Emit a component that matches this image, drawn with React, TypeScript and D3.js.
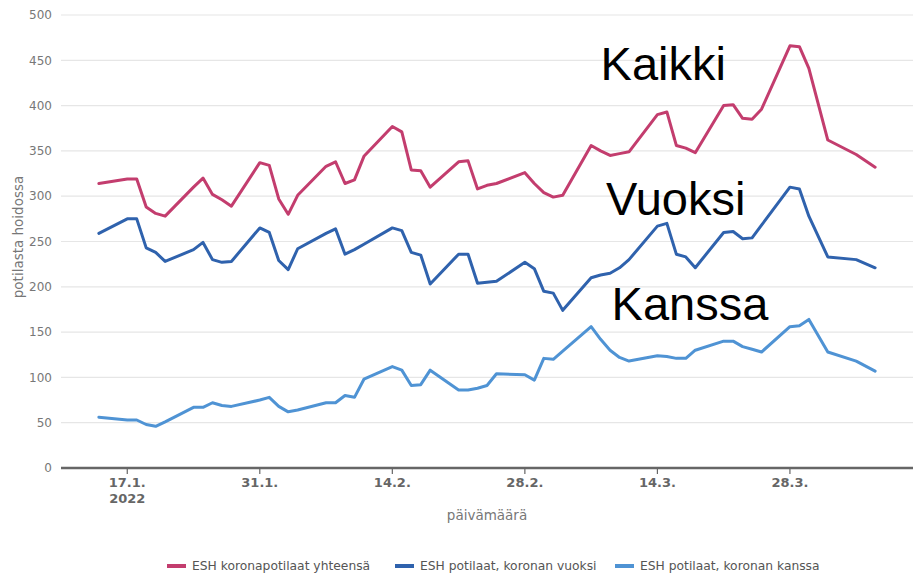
import { scaleLinear, scaleTime, line, timeParse } from 'd3'

const width = 913,
      height = 573,
      margin = { top: 15, right: 0, bottom: 105, left: 61 }

const parseDate = timeParse('%Y-%m-%d')

// weekdays with data (Mar 31 and Apr 5 have no point on the chart)
const dates = [
  '2022-01-14', '2022-01-17', '2022-01-18', '2022-01-19', '2022-01-20', '2022-01-21',
  '2022-01-24', '2022-01-25', '2022-01-26', '2022-01-27', '2022-01-28', '2022-01-31',
  '2022-02-01', '2022-02-02', '2022-02-03', '2022-02-04', '2022-02-07', '2022-02-08',
  '2022-02-09', '2022-02-10', '2022-02-11', '2022-02-14', '2022-02-15', '2022-02-16',
  '2022-02-17', '2022-02-18', '2022-02-21', '2022-02-22', '2022-02-23', '2022-02-24',
  '2022-02-25', '2022-02-28',
  '2022-03-01', '2022-03-02', '2022-03-03', '2022-03-04', '2022-03-07', '2022-03-08',
  '2022-03-09', '2022-03-10', '2022-03-11', '2022-03-14', '2022-03-15', '2022-03-16',
  '2022-03-17', '2022-03-18', '2022-03-21', '2022-03-22', '2022-03-23', '2022-03-24',
  '2022-03-25', '2022-03-28', '2022-03-29', '2022-03-30',
  '2022-04-01', '2022-04-04', '2022-04-06'
]

const yhteensa = [
  314, 319, 319, 288, 281, 278, 310, 320, 302, 296, 289, 337,
  334, 297, 280, 301, 333, 338, 314, 318, 344, 377, 371, 329, 328, 310, 338, 339, 308, 312, 314, 326,
  314, 304, 299, 301, 356, 350, 345, 347, 349, 390, 393, 356, 353, 348, 400, 401, 386, 385, 396, 466, 465, 441,
  362, 346, 332
]

const vuoksi = [
  259, 275, 275, 243, 238, 228, 241, 249, 230, 227, 228, 265,
  260, 229, 219, 242, 259, 264, 236, 241, 247, 265, 262, 238, 235, 203, 236, 236, 204, 205, 206, 227,
  220, 195, 193, 174, 210, 213, 215, 221, 230, 267, 270, 236, 233, 221, 260, 261, 253, 254, 268, 310, 308, 278,
  233, 230, 221
]

const kanssa = [
  56, 53, 53, 48, 46, 51, 67, 67, 72, 69, 68, 75,
  78, 68, 62, 64, 72, 72, 80, 78, 98, 112, 108, 91, 92, 108, 86, 86, 88, 91, 104, 103,
  97, 121, 120, 129, 156, 142, 130, 122, 118, 124, 123, 121, 121, 130, 140, 140, 134, 131, 128, 156, 157, 164,
  128, 118, 107
]

const yTicks = [0, 50, 100, 150, 200, 250, 300, 350, 400, 450, 500]
const xTicks = ['2022-01-17', '2022-01-31', '2022-02-14', '2022-02-28', '2022-03-14', '2022-03-28']
const xTickLabels = ['17.1.', '31.1.', '14.2.', '28.2.', '14.3.', '28.3.']

const seriesNames = ['ESH koronapotilaat yhteensä', 'ESH potilaat, koronan vuoksi', 'ESH potilaat, koronan kanssa']
const seriesColors = ['#c33d6e', '#2f62ad', '#4f93d4']
const annotations = ['Kaikki', 'Vuoksi', 'Kanssa']

export default function App() {
  const x = scaleTime()
    .domain([parseDate('2022-01-10'), parseDate('2022-04-10')])
    .range([margin.left, width - margin.right])

  const y = scaleLinear()
    .domain([0, 500])
    .range([height - margin.bottom, margin.top])

  const series = [yhteensa, vuoksi, kanssa]

  const drawLine = line<[Date, number]>()
    .x(d => x(d[0]))
    .y(d => y(d[1]))

  const paths = series.map(vals => drawLine(dates.map((d, i) => [parseDate(d), vals[i]])))

  // annotation anchors: x on a date, baseline on a value
  const annoPos = [
    { d: '2022-03-08', v: 428 },
    { d: '2022-03-08', v: 279 },
    { d: '2022-03-08', v: 163 }
  ]

  const legendX = [167, 395, 615]
  const y0 = y(0)

  return (
    <svg width={width} height={height} style={{ position: 'absolute', left: 0, top: 0, background: '#fff' }}>
      {yTicks.map(t => (
        <g key={t}>
          {t > 0 && <line x1={margin.left} x2={width} y1={y(t)} y2={y(t)} stroke='#e6e6e6' strokeWidth={1.2} />}
          <text x={52} y={y(t)} dy='0.35em' textAnchor='end' fontFamily='DejaVu Sans' fontSize={12} fill='#777'>{t}</text>
        </g>
      ))}

      <text transform={`translate(23, ${y(255)}) rotate(-90)`} textAnchor='middle' fontFamily='DejaVu Sans' fontSize={13.5} fill='#777'>potilasta hoidossa</text>

      {paths.map((p, i) => (
        <path key={i} d={p || ''} fill='none' stroke={seriesColors[i]} strokeWidth={3} strokeLinejoin='round' strokeLinecap='round' />
      ))}

      <line x1={margin.left} x2={width} y1={y0} y2={y0} stroke='#666' strokeWidth={2.5} />
      {xTicks.map((t, i) => (
        <g key={t} transform={`translate(${x(parseDate(t))}, 0)`}>
          <line y1={y0} y2={y0 + 6} stroke='#666' strokeWidth={1.2} />
          <text y={y0 + 19} textAnchor='middle' fontFamily='DejaVu Sans' fontWeight='bold' fontSize={13} fill='#666'>{xTickLabels[i]}</text>
          {i === 0 && <text y={y0 + 35} textAnchor='middle' fontFamily='DejaVu Sans' fontWeight='bold' fontSize={13} fill='#666'>2022</text>}
        </g>
      ))}

      <text x={487} y={520} textAnchor='middle' fontFamily='DejaVu Sans' fontSize={13.5} fill='#777'>päivämäärä</text>

      {annotations.map((a, i) => (
        <text key={a} x={x(parseDate(annoPos[i].d)) + (i === 0 ? 0 : i * 5.5)} y={y(annoPos[i].v)} fontFamily='Liberation Sans' fontSize={47} fill='#000'>{a}</text>
      ))}

      {seriesNames.map((n, i) => (
        <g key={n} transform={`translate(${legendX[i]}, 566)`}>
          <line x1={0} x2={19} y1={0} y2={0} stroke={seriesColors[i]} strokeWidth={4} />
          <text x={25} dy='0.35em' fontFamily='DejaVu Sans' fontSize={12.3} fill='#555'>{n}</text>
        </g>
      ))}
    </svg>
  )
}
